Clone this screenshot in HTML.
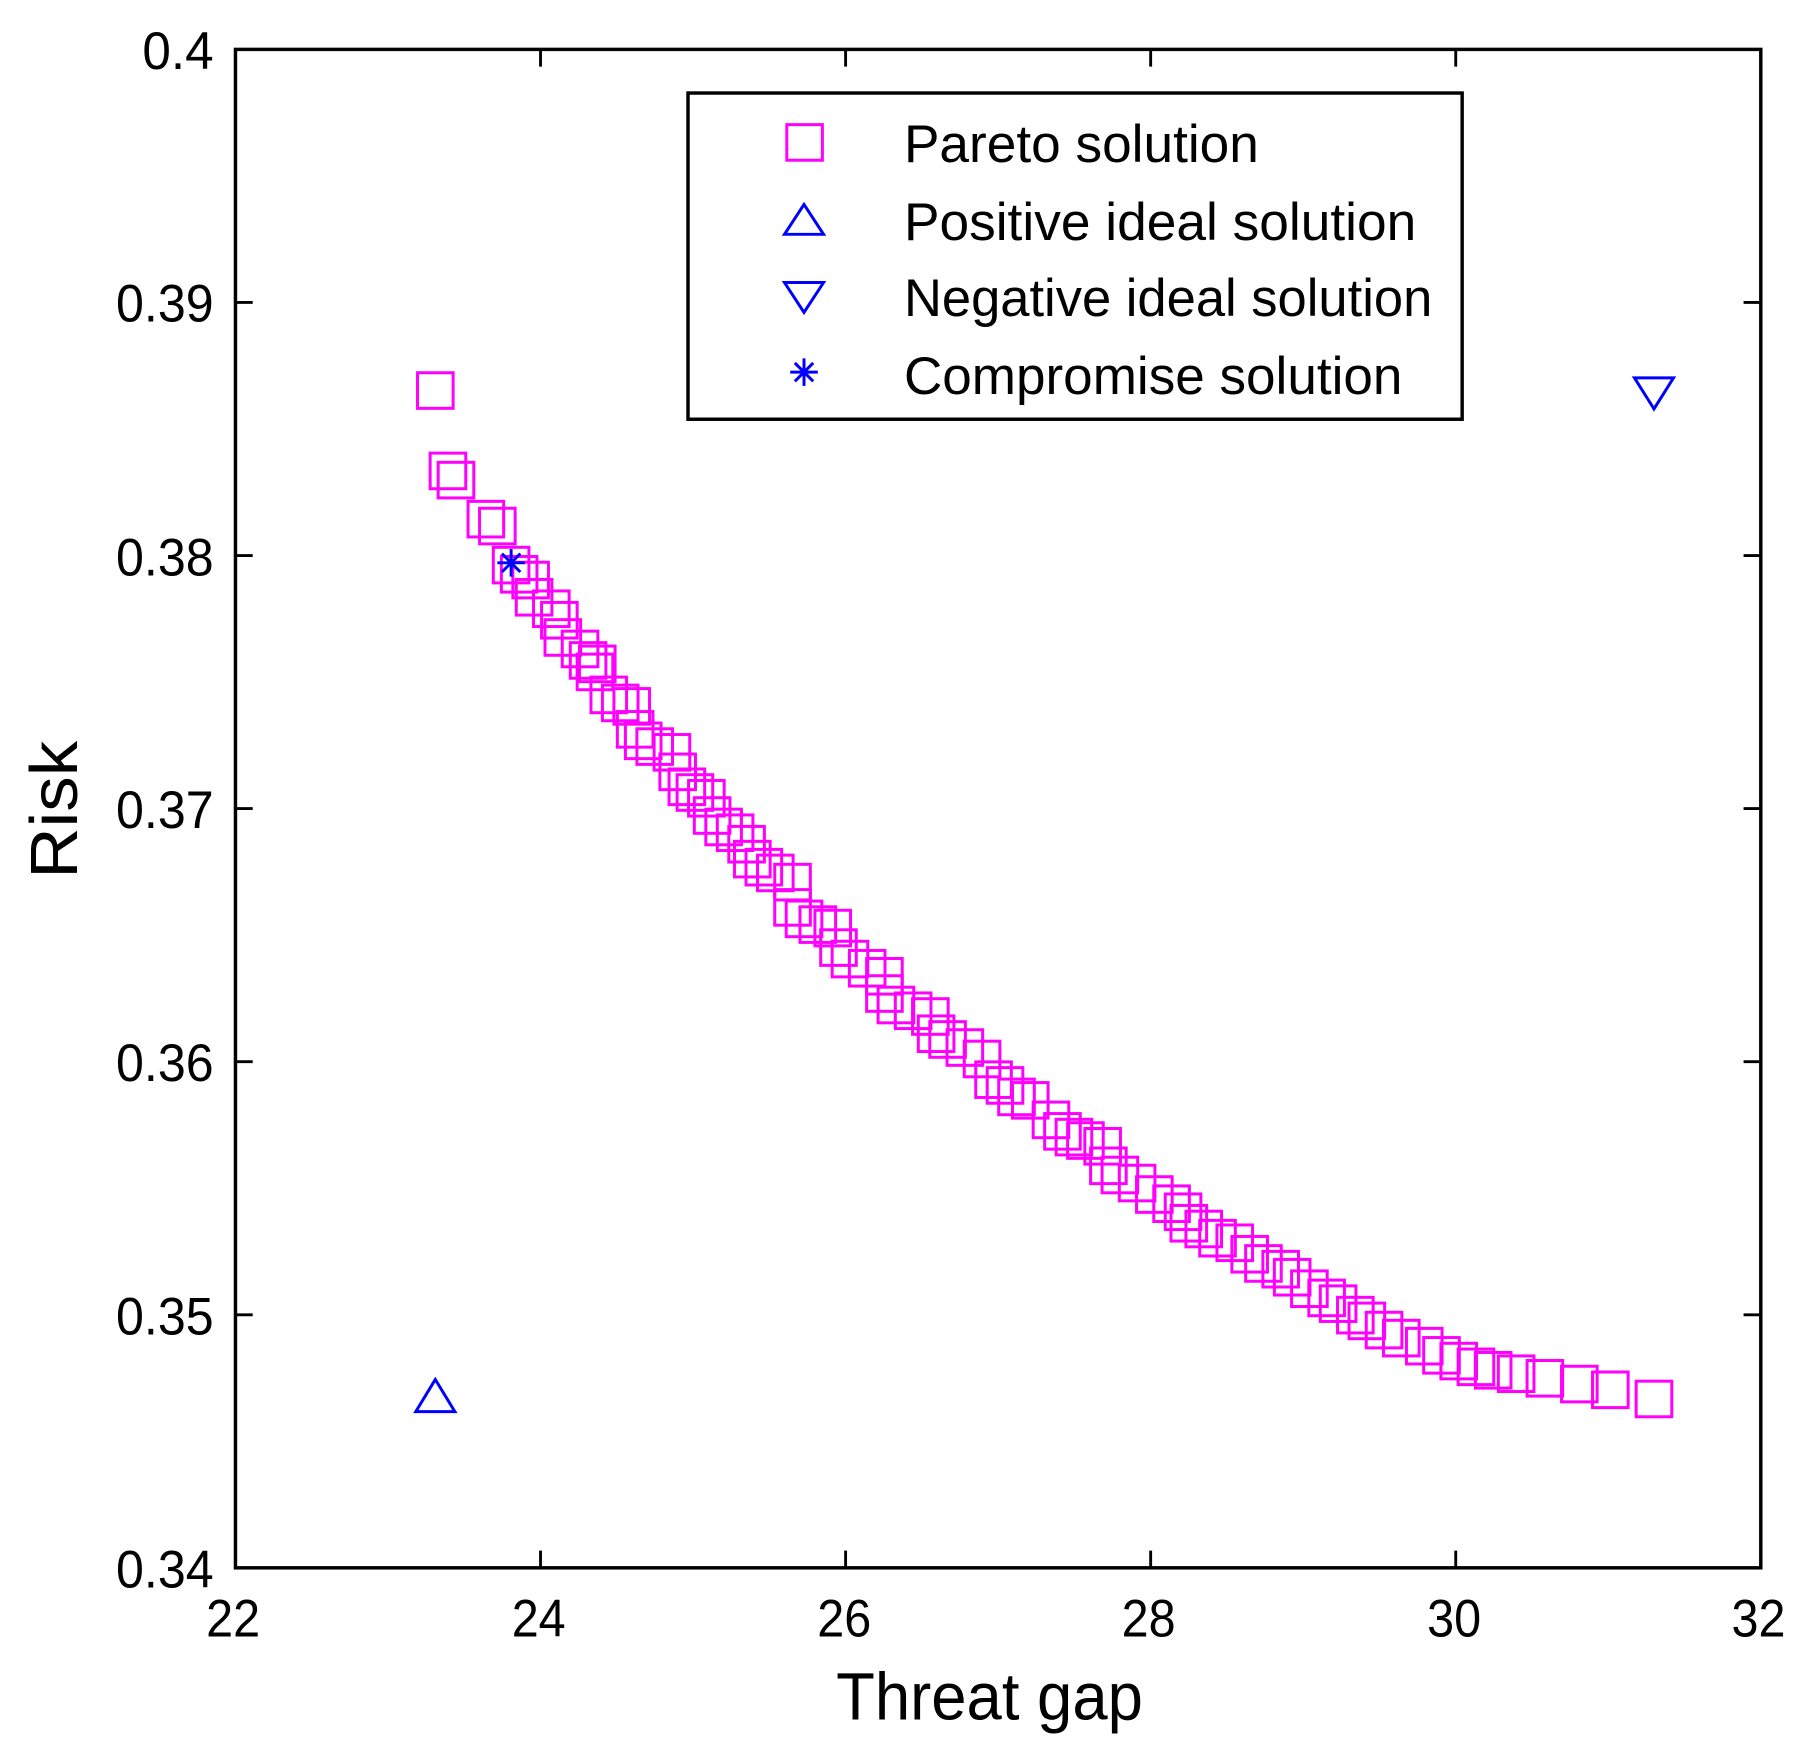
<!DOCTYPE html>
<html><head><meta charset="utf-8"><style>html,body{margin:0;padding:0;background:#fff}svg{display:block}</style></head>
<body>
<svg width="1801" height="1757" viewBox="0 0 1568 1529.7" preserveAspectRatio="none" xmlns="http://www.w3.org/2000/svg" font-family="'Liberation Sans', sans-serif">
<rect x="0" y="0" width="1568" height="1530" fill="#fff"/>
<g fill="none" stroke="#ff00ff" stroke-width="2.6" id="pts"></g>
<g fill="none" stroke="#ff00ff" stroke-width="2.6">
<script>/* static below */</script>
</g>
<g fill="none" stroke="#ff00ff" stroke-width="2.6">
<rect x="363.5" y="324.5" width="31" height="31"/>
<rect x="374.5" y="394.5" width="31" height="31"/><rect x="381.5" y="402.5" width="31" height="31"/>
<rect x="407.5" y="436.5" width="31" height="31"/><rect x="417.5" y="442.5" width="31" height="31"/>
<rect x="429.5" y="476.5" width="31" height="31"/><rect x="436.5" y="484.5" width="31" height="31"/><rect x="446.5" y="489.5" width="31" height="31"/><rect x="449.5" y="504.5" width="31" height="31"/>
<rect x="464.5" y="514.5" width="31" height="31"/><rect x="471.5" y="524.5" width="31" height="31"/><rect x="474.5" y="539.5" width="31" height="31"/>
<rect x="489.5" y="549.5" width="31" height="31"/><rect x="496.5" y="559.5" width="31" height="31"/><rect x="502.5" y="569.5" width="31" height="31"/><rect x="504.5" y="562.5" width="31" height="31"/>
<rect x="514.5" y="589.5" width="31" height="31"/><rect x="524.5" y="596.5" width="31" height="31"/><rect x="534.5" y="599.5" width="31" height="31"/>
<rect x="537.5" y="619.5" width="31" height="31"/><rect x="544.5" y="629.5" width="31" height="31"/><rect x="554.5" y="634.5" width="31" height="31"/><rect x="569.5" y="639.5" width="31" height="31"/>
<rect x="574.5" y="656.5" width="31" height="31"/><rect x="582.5" y="669.5" width="31" height="31"/><rect x="589.5" y="674.5" width="31" height="31"/><rect x="599.5" y="679.5" width="31" height="31"/>
<rect x="604.5" y="694.5" width="31" height="31"/><rect x="614.5" y="704.5" width="31" height="31"/><rect x="624.5" y="709.5" width="31" height="31"/><rect x="634.5" y="719.5" width="31" height="31"/>
<rect x="639.5" y="732.5" width="31" height="31"/><rect x="649.5" y="739.5" width="31" height="31"/><rect x="659.5" y="744.5" width="31" height="31"/><rect x="674.5" y="752.5" width="31" height="31"/>
<rect x="674.5" y="774.5" width="31" height="31"/><rect x="684.5" y="784.5" width="31" height="31"/><rect x="696.5" y="789.5" width="31" height="31"/><rect x="709.5" y="792.5" width="31" height="31"/>
<rect x="714.5" y="809.5" width="31" height="31"/><rect x="724.5" y="819.5" width="31" height="31"/><rect x="739.5" y="827.5" width="31" height="31"/><rect x="754.5" y="834.5" width="31" height="31"/>
<rect x="754.5" y="849.5" width="31" height="31"/><rect x="764.5" y="859.5" width="31" height="31"/><rect x="779.5" y="864.5" width="31" height="31"/><rect x="794.5" y="869.5" width="31" height="31"/>
<rect x="799.5" y="884.5" width="31" height="31"/><rect x="809.5" y="889.5" width="31" height="31"/><rect x="824.5" y="896.5" width="31" height="31"/><rect x="839.5" y="906.5" width="31" height="31"/>
<rect x="849.5" y="924.5" width="31" height="31"/><rect x="859.5" y="929.5" width="31" height="31"/><rect x="869.5" y="939.5" width="31" height="31"/><rect x="881.5" y="942.5" width="31" height="31"/>
<rect x="899.5" y="959.5" width="31" height="31"/><rect x="909.5" y="969.5" width="31" height="31"/><rect x="919.5" y="974.5" width="31" height="31"/><rect x="929.5" y="977.5" width="31" height="31"/><rect x="944.5" y="982.5" width="31" height="31"/>
<rect x="949.5" y="999.5" width="31" height="31"/><rect x="959.5" y="1007.5" width="31" height="31"/><rect x="974.5" y="1014.5" width="31" height="31"/><rect x="989.5" y="1024.5" width="31" height="31"/>
<rect x="1004.5" y="1032.5" width="31" height="31"/><rect x="1014.5" y="1039.5" width="31" height="31"/><rect x="1019.5" y="1049.5" width="31" height="31"/><rect x="1032.5" y="1054.5" width="31" height="31"/><rect x="1044.5" y="1062.5" width="31" height="31"/>
<rect x="1059.5" y="1066.5" width="31" height="31"/><rect x="1072.5" y="1076.5" width="31" height="31"/><rect x="1084.5" y="1084.5" width="31" height="31"/><rect x="1099.5" y="1089.5" width="31" height="31"/><rect x="1109.5" y="1096.5" width="31" height="31"/>
<rect x="1124.5" y="1106.5" width="31" height="31"/><rect x="1139.5" y="1114.5" width="31" height="31"/><rect x="1149.5" y="1119.5" width="31" height="31"/><rect x="1164.5" y="1129.5" width="31" height="31"/><rect x="1174.5" y="1134.5" width="31" height="31"/>
<rect x="1189.5" y="1142.5" width="31" height="31"/><rect x="1204.5" y="1149.5" width="31" height="31"/><rect x="1224.5" y="1156.5" width="31" height="31"/><rect x="1239.5" y="1164.5" width="31" height="31"/><rect x="1254.5" y="1169.5" width="31" height="31"/>
<rect x="1269.5" y="1174.5" width="31" height="31"/><rect x="1284.5" y="1177.5" width="31" height="31"/><rect x="1304.5" y="1180.5" width="31" height="31"/><rect x="1329.5" y="1184.5" width="31" height="31"/><rect x="1359.5" y="1189.5" width="31" height="31"/><rect x="1386.5" y="1194.5" width="31" height="31"/><rect x="1424.5" y="1202.5" width="31" height="31"/>
</g>
<!-- blue markers -->
<g fill="none" stroke="#0000ff" stroke-width="2.6">
<polygon points="379,1201 362,1229 396,1229"/>
<polygon points="1440,356 1423,329 1457,329"/>
<g transform="translate(445,490)"><line x1="0" y1="-12" x2="0" y2="12"/><line x1="-12" y1="0" x2="12" y2="0"/><line x1="-8" y1="-8" x2="8" y2="8"/><line x1="-8" y1="8" x2="8" y2="-8"/></g>
</g>
<!-- axes -->
<rect x="205" y="43" width="1328" height="1322" fill="none" stroke="#000" stroke-width="3"/>
<g stroke="#000" stroke-width="2.5">
<line x1="470.6" y1="1365" x2="470.6" y2="1350"/><line x1="470.6" y1="43" x2="470.6" y2="58"/>
<line x1="736.2" y1="1365" x2="736.2" y2="1350"/><line x1="736.2" y1="43" x2="736.2" y2="58"/>
<line x1="1001.8" y1="1365" x2="1001.8" y2="1350"/><line x1="1001.8" y1="43" x2="1001.8" y2="58"/>
<line x1="1267.4" y1="1365" x2="1267.4" y2="1350"/><line x1="1267.4" y1="43" x2="1267.4" y2="58"/>
<line x1="205" y1="1144.7" x2="220" y2="1144.7"/><line x1="1533" y1="1144.7" x2="1518" y2="1144.7"/>
<line x1="205" y1="924.3" x2="220" y2="924.3"/><line x1="1533" y1="924.3" x2="1518" y2="924.3"/>
<line x1="205" y1="704" x2="220" y2="704"/><line x1="1533" y1="704" x2="1518" y2="704"/>
<line x1="205" y1="483.7" x2="220" y2="483.7"/><line x1="1533" y1="483.7" x2="1518" y2="483.7"/>
<line x1="205" y1="263.3" x2="220" y2="263.3"/><line x1="1533" y1="263.3" x2="1518" y2="263.3"/>
</g>
<g font-size="46" fill="#000">
<g text-anchor="end">
<text x="186" y="1382" textLength="85" lengthAdjust="spacingAndGlyphs">0.34</text>
<text x="186" y="1162" textLength="85" lengthAdjust="spacingAndGlyphs">0.35</text>
<text x="186" y="941" textLength="85" lengthAdjust="spacingAndGlyphs">0.36</text>
<text x="186" y="721" textLength="85" lengthAdjust="spacingAndGlyphs">0.37</text>
<text x="186" y="501" textLength="85" lengthAdjust="spacingAndGlyphs">0.38</text>
<text x="186" y="280" textLength="85" lengthAdjust="spacingAndGlyphs">0.39</text>
<text x="186" y="60" textLength="62" lengthAdjust="spacingAndGlyphs">0.4</text>
</g>
<g text-anchor="middle">
<text x="203" y="1425" textLength="47" lengthAdjust="spacingAndGlyphs">22</text>
<text x="469" y="1425" textLength="47" lengthAdjust="spacingAndGlyphs">24</text>
<text x="735" y="1425" textLength="47" lengthAdjust="spacingAndGlyphs">26</text>
<text x="1000" y="1425" textLength="47" lengthAdjust="spacingAndGlyphs">28</text>
<text x="1266" y="1425" textLength="47" lengthAdjust="spacingAndGlyphs">30</text>
<text x="1531" y="1425" textLength="47" lengthAdjust="spacingAndGlyphs">32</text>
</g>
<text x="728" y="1497" font-size="58" textLength="267" lengthAdjust="spacingAndGlyphs">Threat gap</text>
<text transform="translate(67,765) rotate(-90)" font-size="58" textLength="120" lengthAdjust="spacingAndGlyphs">Risk</text>
</g>
<!-- legend -->
<rect x="599" y="81" width="674" height="284" fill="#fff" stroke="#000" stroke-width="3"/>
<rect x="685" y="108.5" width="31" height="31" fill="none" stroke="#ff00ff" stroke-width="2.6"/>
<g fill="none" stroke="#0000ff" stroke-width="2.6">
<polygon points="700,178 683,204 717,204"/>
<polygon points="700,272 683,246 717,246"/>
<g transform="translate(700,324)"><line x1="0" y1="-12" x2="0" y2="12"/><line x1="-12" y1="0" x2="12" y2="0"/><line x1="-8" y1="-8" x2="8" y2="8"/><line x1="-8" y1="8" x2="8" y2="-8"/></g>
</g>
<g font-size="46" fill="#000">
<text x="787" y="141" textLength="309" lengthAdjust="spacingAndGlyphs">Pareto solution</text>
<text x="787" y="209" textLength="446" lengthAdjust="spacingAndGlyphs">Positive ideal solution</text>
<text x="787" y="275" textLength="460" lengthAdjust="spacingAndGlyphs">Negative ideal solution</text>
<text x="787" y="343" textLength="434" lengthAdjust="spacingAndGlyphs">Compromise solution</text>
</g>
</svg>
</body></html>
